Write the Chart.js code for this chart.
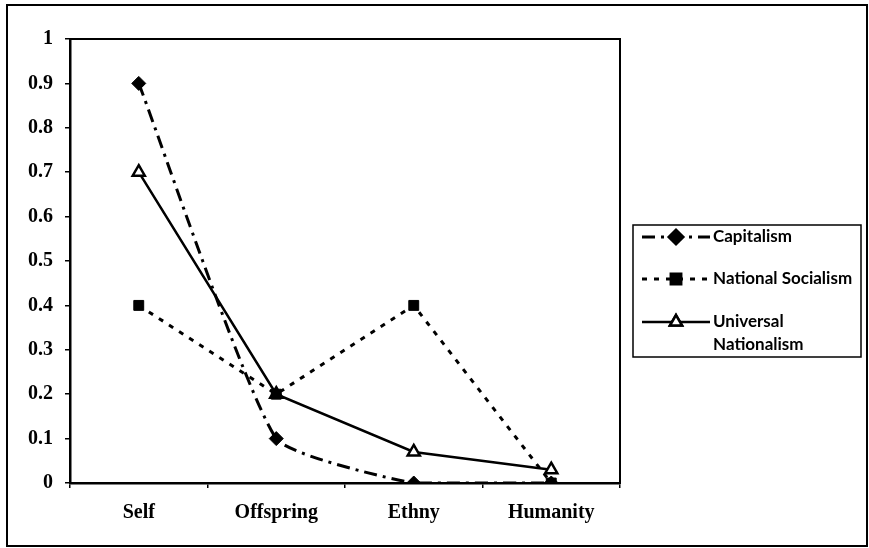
<!DOCTYPE html>
<html>
<head>
<meta charset="utf-8">
<script src="https://cdn.jsdelivr.net/npm/chart.js@4"></script>
<style>
  html, body { margin: 0; padding: 0; background: #fff; }
  #wrap { width: 869px; height: 548px; position: relative; }
</style>
</head>
<body>
<div id="wrap"><canvas id="chart" width="869" height="548"></canvas></div>
<script>
var categories = ['Self', 'Offspring', 'Ethny', 'Humanity'];
var capitalism = [0.9, 0.1, 0, 0];
var nationalSocialism = [0.4, 0.2, 0.4, 0];
var universalNationalism = [0.7, 0.2, 0.07, 0.03];
var yTicks = [0, 0.1, 0.2, 0.3, 0.4, 0.5, 0.6, 0.7, 0.8, 0.9, 1];

var serif = '"Liberation Serif", "Times New Roman", serif';
var legendFont = 'Lato, "Open Sans", sans-serif';

// frame, plot box and boxed legend
var framePlugin = {
  id: 'frame',
  afterDraw: function (chart) {
    var ctx = chart.ctx;
    var a = chart.chartArea;
    ctx.save();
    ctx.strokeStyle = '#000';
    ctx.lineWidth = 2;
    ctx.strokeRect(7, 5, 860, 541);
    ctx.strokeRect(a.left, a.top, a.right - a.left, a.bottom - a.top);

    // legend
    var lx = 633, ly = 225, lw = 228, lh = 132;
    ctx.lineWidth = 1.5;
    ctx.strokeRect(lx, ly, lw, lh);
    var rows = [
      { y: 237, lines: ['Capitalism'] },
      { y: 279, lines: ['National Socialism'] },
      { y: 322, lines: ['Universal', 'Nationalism'] }
    ];
    chart.data.datasets.forEach(function (ds, i) {
      var r = rows[i];
      ctx.save();
      ctx.strokeStyle = '#000';
      ctx.lineWidth = ds.borderWidth;
      ctx.setLineDash(ds.borderDash || []);
      ctx.beginPath();
      ctx.moveTo(642, r.y);
      ctx.lineTo(710, r.y);
      ctx.stroke();
      ctx.setLineDash([]);
      Chart.helpers.drawPoint(ctx, {
        pointStyle: ds.pointStyle,
        radius: ds.pointRadius,
        rotation: ds.pointRotation || 0,
        borderWidth: ds.pointBorderWidth
      }, 676, r.y);
      ctx.fillStyle = ds.pointBackgroundColor;
      ctx.strokeStyle = '#000';
      ctx.lineWidth = ds.pointBorderWidth;
      ctx.fill();
      ctx.stroke();
      ctx.restore();
      ctx.fillStyle = '#000';
      ctx.font = 'bold 17px ' + legendFont;
      ctx.textBaseline = 'middle';
      ctx.textAlign = 'left';
      r.lines.forEach(function (t, k) {
        ctx.fillText(t, 713, r.y + k * 23);
      });
    });
    ctx.restore();
  }
};

new Chart(document.getElementById('chart').getContext('2d'), {
  type: 'line',
  data: {
    labels: categories,
    datasets: [{
      label: 'Capitalism',
      data: capitalism,
      borderColor: '#000',
      borderWidth: 3,
      borderDash: [13, 6, 3, 6],
      pointStyle: 'rectRot',
      pointRadius: 7,
      pointBackgroundColor: '#000',
      pointBorderColor: '#000',
      pointBorderWidth: 1,
      tension: 0.15,
      fill: false
    }, {
      label: 'National Socialism',
      data: nationalSocialism,
      borderColor: '#000',
      borderWidth: 3,
      borderDash: [5, 7],
      pointStyle: 'rect',
      pointRadius: 7,
      pointBackgroundColor: '#000',
      pointBorderColor: '#000',
      pointBorderWidth: 1,
      tension: 0,
      fill: false
    }, {
      label: 'Universal Nationalism',
      data: universalNationalism,
      borderColor: '#000',
      borderWidth: 2.5,
      pointStyle: 'triangle',
      pointRadius: 7,
      pointBackgroundColor: '#fff',
      pointBorderColor: '#000',
      pointBorderWidth: 2.5,
      tension: 0,
      fill: false
    }]
  },
  options: {
    responsive: false,
    animation: false,
    layout: { padding: { left: 0, top: 39, right: 249, bottom: 0 } },
    plugins: {
      legend: { display: false },
      tooltip: { enabled: false }
    },
    scales: {
      x: {
        offset: true,
        afterFit: function (s) { s.height = 65; },
        grid: { display: true, drawOnChartArea: false, offset: true, tickLength: 5, color: '#000', lineWidth: 1.5 },
        border: { display: true, color: '#000', width: 2.5 },
        ticks: { color: '#000', padding: 13, font: { family: serif, size: 20, weight: 'bold' } }
      },
      y: {
        min: 0,
        max: 1,
        afterFit: function (s) { s.width = 70; },
        afterBuildTicks: function (s) { s.ticks = yTicks.map(function (v) { return { value: v }; }); },
        grid: { display: true, drawOnChartArea: false, tickLength: 5, color: '#000', lineWidth: 1.5 },
        border: { display: true, color: '#000', width: 2.5 },
        ticks: {
          color: '#000',
          padding: 12,
          font: { family: serif, size: 20, weight: 'bold' },
          callback: function (v) { return String(Math.round(v * 10) / 10); }
        }
      }
    }
  },
  plugins: [framePlugin]
});
</script>
</body>
</html>
